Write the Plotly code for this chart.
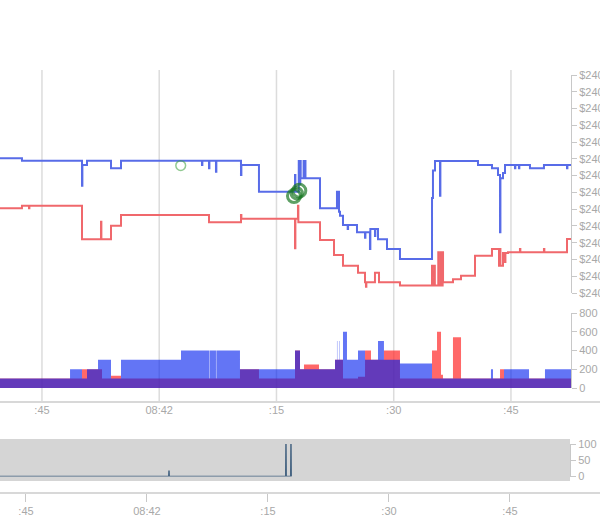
import plotly.graph_objects as go

# ---------------- data ----------------
# time in seconds after 08:41:00
ask_t = [39.63, 42.44, 50.12, 50.17, 50.76, 53.83, 55.11, 65.47, 65.52, 66.37, 66.42, 67.26, 67.31,
         70.46, 70.51, 72.76, 77.37, 77.42, 77.85, 77.90, 78.05, 78.10, 78.47, 78.52, 78.66, 78.71,
         80.57, 82.74, 82.80, 82.95, 83.00, 83.13, 83.51, 84.11, 84.16, 85.30, 86.33, 86.38, 86.96,
         87.01, 87.60, 87.65, 87.99, 89.14, 90.80, 94.90, 95.02, 95.28, 95.92, 95.97, 100.78, 102.57,
         103.34, 103.60, 103.65, 103.98, 104.24, 105.51, 105.56, 106.02, 106.07, 107.43, 109.22,
         112.17, 112.22, 112.68]
ask_px = [240.0803, 240.0789, 240.0640, 240.0763, 240.0789, 240.0744, 240.0789, 240.0763, 240.0789,
          240.0744, 240.0789, 240.0723, 240.0789, 240.0704, 240.0763, 240.0604, 240.0704, 240.0604,
          240.0787, 240.0650, 240.0787, 240.0684, 240.0787, 240.0684, 240.0787, 240.0684, 240.0505,
          240.0604, 240.0505, 240.0604, 240.0485, 240.0461, 240.0405, 240.0382, 240.0405, 240.0362,
          240.0330, 240.0362, 240.0262, 240.0382, 240.0340, 240.0382, 240.0320, 240.0262, 240.0203,
          240.0566, 240.0730, 240.0787, 240.0580, 240.0787, 240.0763, 240.0744, 240.0704, 240.0362,
          240.0685, 240.0715, 240.0763, 240.0744, 240.0763, 240.0744, 240.0763, 240.0744, 240.0763,
          240.0744, 240.0763, 240.0763]

bid_t = [39.63, 42.44, 43.34, 43.39, 50.12, 52.55, 52.60, 53.83, 55.11, 66.37, 70.46, 70.51, 77.37,
         77.42, 77.75, 77.80, 80.57, 82.36, 83.51, 85.43, 86.33, 86.45, 86.50, 87.60, 88.12, 90.80,
         94.90, 94.95, 95.21, 95.26, 95.70, 95.75, 96.01, 96.06, 96.26, 96.31, 97.58, 98.61, 100.40,
         102.57, 103.47, 103.60, 103.65, 103.98, 104.24, 104.29, 104.62, 106.15, 106.20, 109.22,
         109.27, 112.17, 112.68]
bid_px = [240.0505, 240.0521, 240.0505, 240.0521, 240.0320, 240.0425, 240.0320, 240.0401, 240.0465,
          240.0422, 240.0465, 240.0443, 240.0267, 240.0443, 240.0521, 240.0422, 240.0316, 240.0227,
          240.0163, 240.0121, 240.0064, 240.0038, 240.0064, 240.0121, 240.0064, 240.0045, 240.0163,
          240.0045, 240.0163, 240.0045, 240.0243, 240.0045, 240.0243, 240.0045, 240.0243, 240.0064,
          240.0082, 240.0103, 240.0222, 240.0262, 240.0163, 240.0262, 240.0163, 240.0239, 240.0185,
          240.0239, 240.0243, 240.0262, 240.0243, 240.0262, 240.0243, 240.0322, 240.0322]

# order book sizes (step series)
size_t = [39.63, 48.59, 50.12, 50.76, 52.17, 52.68, 53.83, 55.11, 62.79, 66.37, 66.42, 67.26, 67.31,
          70.33, 72.76, 77.37, 78.01, 78.52, 80.44, 82.49, 82.74, 82.79, 83.00, 83.05, 83.51, 84.02,
          85.43, 86.33, 87.09, 87.99, 88.75, 90.80, 94.90, 95.54, 96.05, 96.30, 97.58, 98.61, 102.44,
          102.70, 103.60, 104.11, 107.31, 109.35, 112.68]
bid_size = [100, 100, 200, 200, 200, 100, 130, 100, 100, 100, 100, 100, 100,
            200, 100, 400, 200, 250, 200, 300, 300, 300, 300, 300, 100, 100,
            120, 400, 300, 300, 400, 100, 400, 600, 140, 100, 540, 100, 100,
            100, 200, 100, 100, 100, 100]
ask_size = [100, 200, 100, 200, 300, 300, 100, 300, 400, 100, 400, 100, 400,
            200, 200, 400, 200, 200, 200, 300, 500, 300, 500, 300, 600, 300,
            400, 300, 300, 500, 300, 260, 100, 100, 100, 100, 100, 100, 200,
            100, 100, 200, 100, 200, 200]

# trades
trade_t = [62.75, 77.24, 77.59, 77.92]
trade_px = [240.0760, 240.0578, 240.0595, 240.0610]
trade_size = [19, 100, 60, 100]

# navigator series (trade sizes)
nav_t = [41.78, 62.70, 62.73, 62.76, 77.20, 77.23, 77.26, 77.82, 77.85, 77.88]
nav_v = [0, 0, 19, 0, 0, 100, 0, 0, 100, 0]

x_tickvals = [45, 60, 75, 90, 105]
x_ticktext = [":45", "08:42", ":15", ":30", ":45"]
price_ticks = [240.00 + i * 0.01 for i in range(14)]
price_ticktext = ["$%.2f" % v for v in price_ticks]
vol_ticks = [0, 200, 400, 600, 800]
nav_ticks = [0, 50, 100]

# ---------------- figure ----------------
W, H = 600, 531
def py(px):  # pixel row -> paper y
    return 1 - px / H

BLUE = "rgb(88,108,232)"
RED = "rgb(240,104,108)"
GRID = "#dcdcdc"
TXT = "#a8a8a8"
FONT = "Liberation Sans, Arial, sans-serif"

fig = go.Figure()

# volume fills
fig.add_trace(go.Scatter(x=size_t, y=bid_size, mode="lines", line=dict(shape="hv", width=0),
                         fill="tozeroy", fillcolor="rgba(255,40,40,0.7)", xaxis="x", yaxis="y2",
                         hoverinfo="skip", showlegend=False))
fig.add_trace(go.Scatter(x=size_t, y=ask_size, mode="lines", line=dict(shape="hv", width=0),
                         fill="tozeroy", fillcolor="rgba(0,30,238,0.61)", xaxis="x", yaxis="y2",
                         hoverinfo="skip", showlegend=False))

# price lines
fig.add_trace(go.Scatter(x=bid_t, y=bid_px, mode="lines", line=dict(shape="hv", width=2, color=RED),
                         xaxis="x", yaxis="y", showlegend=False))
fig.add_trace(go.Scatter(x=ask_t, y=ask_px, mode="lines", line=dict(shape="hv", width=2, color=BLUE),
                         xaxis="x", yaxis="y", showlegend=False))

# trades
fig.add_trace(go.Scatter(x=trade_t, y=trade_px, mode="markers",
                         marker=dict(symbol="circle-open",
                                     size=[9 + 4 * s / 100 for s in trade_size],
                                     color=["rgba(60,160,60,0.8)" if s < 50 else "rgb(25,120,35)" for s in trade_size],
                                     line=dict(width=[1.5 if s < 50 else 3 for s in trade_size])),
                         xaxis="x", yaxis="y", showlegend=False))

# navigator
fig.add_trace(go.Scatter(x=nav_t, y=nav_v, mode="lines", line=dict(width=1.5, color="rgb(70,100,130)"),
                         xaxis="x2", yaxis="y3", showlegend=False))

main_dom = [0, 571 / W]
nav_dom = [0, 570 / W]

shapes = []
# navigator band
shapes.append(dict(type="rect", xref="paper", yref="paper", x0=0, x1=570 / W, y0=py(481), y1=py(439),
                   fillcolor="#d5d5d5", line=dict(width=0), layer="below"))
# vertical grid lines through price and volume panels
for tv in x_tickvals:
    shapes.append(dict(type="line", xref="x", yref="paper", x0=tv, x1=tv, y0=py(402), y1=py(70),
                       line=dict(color=GRID, width=1.5), layer="below"))
# axis base lines spanning full width
shapes.append(dict(type="line", xref="paper", yref="paper", x0=0, x1=1, y0=py(402), y1=py(402),
                   line=dict(color="#d8d8d8", width=2)))
shapes.append(dict(type="line", xref="paper", yref="paper", x0=0, x1=1, y0=py(493), y1=py(493),
                   line=dict(color="#d8d8d8", width=2)))

axis_font = dict(family=FONT, size=11, color=TXT)

fig.update_layout(
    width=W, height=H,
    margin=dict(l=0, r=0, t=0, b=0),
    paper_bgcolor="white", plot_bgcolor="rgba(0,0,0,0)",
    showlegend=False,
    shapes=shapes,
    xaxis=dict(domain=main_dom, range=[39.63, 112.68], anchor="free", position=py(402),
               tickvals=x_tickvals, ticktext=x_ticktext, ticks="", showgrid=False, showline=False,
               zeroline=False, tickfont=axis_font, fixedrange=True),
    yaxis=dict(domain=[py(293), py(75)], range=[240.00, 240.13], side="right", anchor="x",
               tickvals=price_ticks, ticktext=price_ticktext, ticks="outside", ticklen=5,
               tickcolor="#c8c8c8", showline=True, linecolor="#c8c8c8", linewidth=1,
               showgrid=False, zeroline=False, tickfont=axis_font, automargin=False),
    yaxis2=dict(domain=[py(388), py(313)], range=[0, 800], side="right", anchor="x",
                tickvals=vol_ticks, ticks="outside", ticklen=5, tickcolor="#c8c8c8",
                showline=True, linecolor="#c8c8c8", linewidth=1, showgrid=False, zeroline=False,
                tickfont=axis_font, automargin=False),
    xaxis2=dict(domain=nav_dom, range=[41.78, 112.44], anchor="free", position=py(493),
                tickvals=x_tickvals, ticktext=x_ticktext, ticks="outside", ticklen=8,
                tickcolor="#c8c8c8", showgrid=False, showline=False, zeroline=False,
                tickfont=axis_font),
    yaxis3=dict(domain=[py(476.6), py(444)], range=[0, 100], side="right", anchor="x2",
                tickvals=nav_ticks, ticks="outside", ticklen=5, tickcolor="#c8c8c8",
                showline=True, linecolor="#c8c8c8", linewidth=1, showgrid=False, zeroline=False,
                tickfont=axis_font, automargin=False),
)

fig.write_html("out.html")
